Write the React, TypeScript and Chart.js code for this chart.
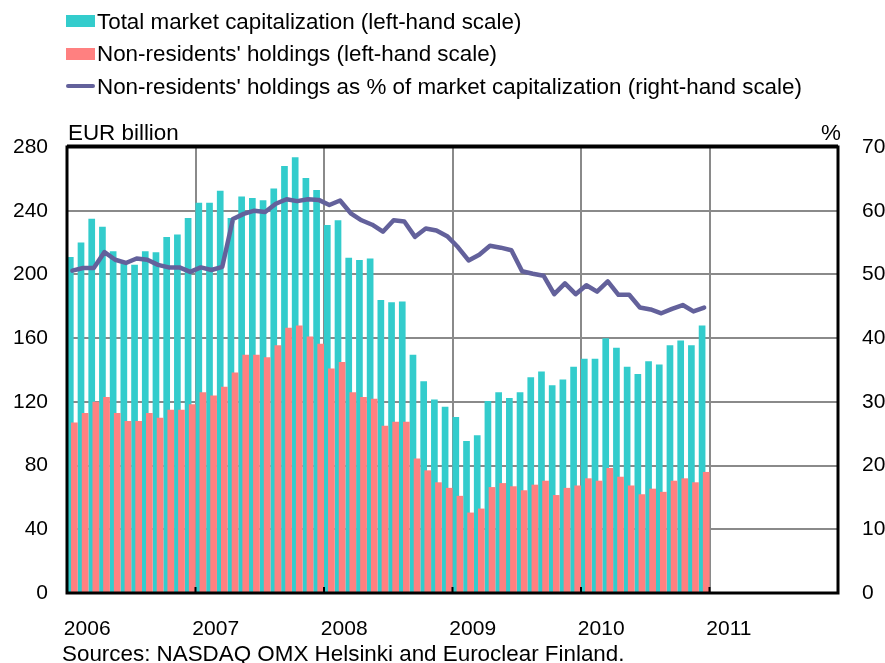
import React, { useEffect, useRef } from 'react';
import { Chart, registerables } from 'chart.js';

Chart.register(...registerables);

const FONT = '"Liberation Sans", Arial, Helvetica, sans-serif';

// Years on the horizontal axis (monthly categories)
const years = ['2006', '2007', '2008', '2009', '2010', '2011'];
const monthLabels = years.flatMap((y) =>
  Array.from({ length: 12 }, (_, m) => `${y}-${String(m + 1).padStart(2, '0')}`)
);

// Total market capitalization, EUR billion (left-hand scale), Jan 2006 - Dec 2010
const totalCap = [
  211, 220, 235, 230, 214.5, 207, 206, 214.5, 214, 223.5, 225, 235.5,
  245, 245, 252.5, 235.5, 249, 248, 246.5, 254, 268, 273.5, 260.5, 253,
  231, 234, 210.5, 209, 210, 184, 182.5, 183, 149.5, 133, 121.5, 117,
  110.5, 95.5, 99, 120.5, 126, 122.5, 126, 135.5, 139, 130.5, 134, 142,
  147, 147, 160, 154, 142, 137.5, 145.5, 143.5, 155.5, 158.5, 155.5, 168,
];

// Non-residents' holdings, EUR billion (left-hand scale)
const nonResidents = [
  107, 113, 120, 123, 113, 108, 108, 113, 110, 115, 115, 118.5,
  126, 124, 129.5, 138.5, 149.5, 149.5, 148, 155.5, 166.5, 168, 161, 156.5,
  141, 145, 126, 123, 122, 105, 107.5, 107.5, 84.5, 77, 69.5, 66,
  61, 50.5, 53, 66.5, 69, 67, 64.5, 68, 70.5, 61.5, 66, 67.5,
  72, 70.5, 78.5, 73, 67.5, 62, 65.5, 63.5, 70.5, 72, 69.5, 76,
];

// Non-residents' holdings as % of market capitalization (right-hand scale)
const nonResidentsPct = [
  50.6, 51.0, 51.0, 53.5, 52.3, 51.8, 52.5, 52.3, 51.5, 51.1, 51.1, 50.4,
  51.1, 50.7, 51.2, 58.7, 59.5, 60.0, 59.8, 61.1, 61.8, 61.5, 61.8, 61.7,
  60.9, 61.6, 59.6, 58.5, 57.8, 56.7, 58.5, 58.3, 55.9, 57.2, 56.9, 56.0,
  54.3, 52.2, 53.1, 54.5, 54.2, 53.8, 50.5, 50.1, 49.8, 46.9, 48.6, 46.9,
  48.3, 47.3, 48.9, 46.8, 46.8, 44.8, 44.5, 43.9, 44.6, 45.2, 44.2, 44.8,
];

const legendLabels = [
  'Total market capitalization (left-hand scale)',
  "Non-residents' holdings (left-hand scale)",
  "Non-residents' holdings as % of market capitalization (right-hand scale)",
];

const TEAL = '#33CCCC';
const SALMON = '#FF8080';
const PURPLE = '#63619B';
const GRID = '#8A8A8A';

const framePlugin = {
  id: 'frame',
  afterDatasetsDraw(chart: any) {
    const { ctx, chartArea: a, scales } = chart;
    ctx.save();
    ctx.strokeStyle = '#000';
    ctx.lineWidth = 3;
    ctx.strokeRect(a.left, a.top, a.right - a.left, a.bottom - a.top);
    ctx.beginPath();
    ctx.moveTo(a.left, a.top - 1);
    ctx.lineTo(a.right, a.top - 1);
    ctx.stroke();
    const xs = scales.x;
    const half = (xs.getPixelForValue(1) - xs.getPixelForValue(0)) / 2;
    ctx.lineWidth = 2;
    for (let i = 12; i < monthLabels.length; i += 12) {
      const px = xs.getPixelForValue(i) - half;
      ctx.beginPath();
      ctx.moveTo(px, a.bottom);
      ctx.lineTo(px, a.bottom - 6);
      ctx.stroke();
    }
    ctx.restore();
  },
};

const textStyle: React.CSSProperties = {
  position: 'absolute',
  fontFamily: FONT,
  fontSize: 22.4,
  lineHeight: '22px',
  color: '#000',
  whiteSpace: 'nowrap',
};

export default function App() {
  const canvasRef = useRef<HTMLCanvasElement | null>(null);

  useEffect(() => {
    if (!canvasRef.current) return;
    Chart.defaults.font.family = FONT;
    Chart.defaults.font.size = 21;
    Chart.defaults.color = '#000';
    const chart = new Chart(canvasRef.current, {
      type: 'bar',
      data: {
        labels: monthLabels,
        datasets: [
          {
            // empty helper group that places the total bars in the left slot
            type: 'bar',
            label: '',
            data: monthLabels.map(() => null),
            stack: 'a',
            order: 0,
            categoryPercentage: 0.766,
            barPercentage: 1.63,
          } as any,
          {
            type: 'bar',
            label: legendLabels[1],
            data: nonResidents,
            backgroundColor: SALMON,
            borderWidth: 0,
            stack: 'b',
            order: 1,
            categoryPercentage: 0.766,
            barPercentage: 1.63,
            yAxisID: 'y',
          },
          {
            type: 'bar',
            label: legendLabels[0],
            data: totalCap,
            backgroundColor: TEAL,
            borderWidth: 0,
            stack: 'a',
            order: 2,
            categoryPercentage: 0.766,
            barPercentage: 1.63,
            yAxisID: 'y',
          },
          {
            type: 'line',
            label: legendLabels[2],
            data: nonResidentsPct,
            borderColor: PURPLE,
            borderWidth: 4.5,
            pointRadius: 0,
            tension: 0,
            borderJoinStyle: 'round',
            borderCapStyle: 'round',
            order: -1,
            yAxisID: 'y1',
          } as any,
        ],
      },
      options: {
        responsive: false,
        animation: false,
        events: [],
        layout: { padding: { top: 147, left: 0, right: 0, bottom: 0 } },
        plugins: {
          legend: { display: false },
          tooltip: { enabled: false },
        },
        scales: {
          x: {
            type: 'category',
            offset: true,
            border: { display: false },
            grid: {
              offset: true,
              drawTicks: false,
              lineWidth: 2,
              color: (c: any) => (c.index % 12 === 0 && c.index > 0 ? GRID : 'rgba(0,0,0,0)'),
            },
            ticks: {
              autoSkip: false,
              maxRotation: 0,
              minRotation: 0,
              align: 'start',
              labelOffset: -8.5,
              padding: 24,
              font: { size: 21 },
              callback: (_v: any, i: number) => (i % 12 === 0 ? years[i / 12] : ''),
            },
            afterFit: (s: any) => {
              s.height = 70;
            },
          },
          y: {
            position: 'left',
            min: 0,
            max: 280,
            stacked: false,
            border: { display: false },
            grid: { color: GRID, lineWidth: 2, drawTicks: false },
            ticks: { stepSize: 40, padding: 19, font: { size: 21 } },
            afterFit: (s: any) => {
              s.width = 67;
            },
          },
          y1: {
            position: 'right',
            min: 0,
            max: 70,
            border: { display: false },
            grid: { display: false, drawTicks: false },
            ticks: { stepSize: 10, padding: 24, font: { size: 21 } },
            afterFit: (s: any) => {
              s.width = 47;
            },
          },
        },
      } as any,
      plugins: [framePlugin],
    });
    return () => chart.destroy();
  }, []);

  return (
    <div style={{ position: 'absolute', left: 0, top: 0, width: 885, height: 663, background: '#fff' }}>
      <canvas
        ref={canvasRef}
        width={885}
        height={663}
        style={{ position: 'absolute', left: 0, top: 0, width: 885, height: 663 }}
      />
      <div style={{ position: 'absolute', left: 66, top: 15, width: 29, height: 12, background: TEAL }} />
      <div style={{ ...textStyle, left: 97, top: 11 }}>{legendLabels[0]}</div>
      <div style={{ position: 'absolute', left: 66, top: 48, width: 29, height: 12, background: SALMON }} />
      <div style={{ ...textStyle, left: 97, top: 43 }}>{legendLabels[1]}</div>
      <div
        style={{ position: 'absolute', left: 66, top: 84, width: 29, height: 4, borderRadius: 2, background: PURPLE }}
      />
      <div style={{ ...textStyle, left: 97, top: 76 }}>{legendLabels[2]}</div>
      <div style={{ ...textStyle, left: 68, top: 122 }}>EUR billion</div>
      <div style={{ ...textStyle, left: 821, top: 122 }}>%</div>
      <div style={{ ...textStyle, left: 62, top: 643 }}>
        Sources: NASDAQ OMX Helsinki and Euroclear Finland.
      </div>
    </div>
  );
}
